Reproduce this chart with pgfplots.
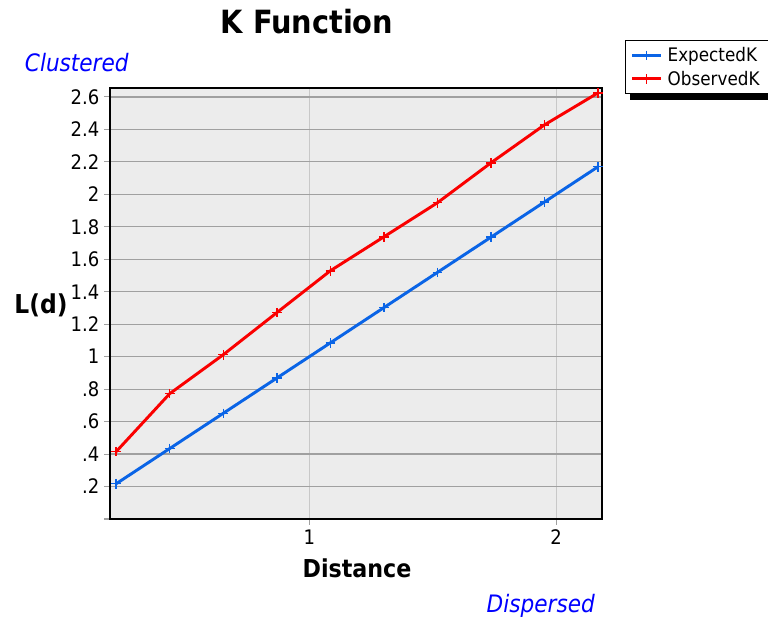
\documentclass[border=0pt]{standalone}
\usepackage{pgfplots}
\pgfplotsset{compat=1.18}
\usepackage{fontspec}
\setmainfont{DejaVu Sans Condensed}
\definecolor{expblue}{RGB}{10,100,230}
\definecolor{obsred}{RGB}{250,0,0}
\definecolor{bggray}{RGB}{236,236,236}
\definecolor{hgrid}{RGB}{160,160,160}
\definecolor{vgrid}{RGB}{200,200,200}
\begin{document}
\begin{tikzpicture}
\useasboundingbox (0,0) rectangle (576pt,465pt);
\begin{axis}[
  at={(82.5pt,75.75pt)}, anchor=south west,
  width=369pt, height=323.25pt, scale only axis,
  xmin=0.192, xmax=2.186, ymin=0, ymax=2.655,
  axis background/.style={fill=bggray},
  axis line style={black, line width=1.2pt},
  xtick={1,2}, ytick={0,0.2,0.4,0.6,0.8,1,1.2,1.4,1.6,1.8,2,2.2,2.4,2.6},
  yticklabels={,.2,.4,.6,.8,1,1.2,1.4,1.6,1.8,2,2.2,2.4,2.6},
  tick align=outside, tick pos=left,
  major tick length=4.5pt,
  tick style={hgrid, line width=0.8pt},
  ymajorgrids, xmajorgrids,
  y grid style={hgrid, line width=0.9pt},
  x grid style={vgrid, line width=0.8pt},
  tick label style={font=\fontsize{15}{17}\selectfont},
  /pgf/number format/assume math mode=true,
  legend style={name=leg, at={(1.047,1.111)}, anchor=north west, draw=black, fill=white, line width=0.8pt,
    font=\fontsize{14}{16}\selectfont, inner xsep=4pt, inner ysep=3pt, row sep=1.5pt,
    nodes={inner xsep=4pt}},
  legend cell align=left,
  legend image code/.code={
    \draw[#1, mark=none] (0cm,0cm) -- (0.75cm,0cm);
    \draw[#1, only marks] plot coordinates {(0.375cm,0cm)};},
]
\addplot[expblue, line width=2.2pt, mark=+, mark size=3.6pt, mark options={line width=1.1pt}] coordinates {
(0.217,0.217)(0.434,0.434)(0.651,0.651)(0.868,0.868)(1.085,1.085)(1.302,1.302)(1.519,1.519)(1.736,1.736)(1.953,1.953)(2.170,2.170)};
\addlegendentry{ExpectedK}
\addplot[obsred, line width=2.2pt, mark=+, mark size=3.6pt, mark options={line width=1.1pt}] coordinates {
(0.217,0.415)(0.434,0.772)(0.651,1.012)(0.868,1.271)(1.085,1.529)(1.302,1.738)(1.519,1.948)(1.736,2.194)(1.953,2.428)(2.170,2.625)};
\addlegendentry{ObservedK}
\end{axis}
\fill[black] ([xshift=4pt]leg.south west) rectangle ([xshift=4pt,yshift=-4.5pt]leg.south east);
\fill[black] ([yshift=-4.5pt]leg.north east) rectangle ([xshift=4pt,yshift=-4.5pt]leg.south east);
\node[font=\fontsize{24}{28}\selectfont\bfseries] at (230.25pt,448.5pt) {K Function};
\node[font=\fontsize{18}{21}\selectfont\itshape, text=blue, anchor=west, inner sep=0pt] at (18.5pt,417.75pt) {Clustered};
\node[font=\fontsize{18}{21}\selectfont\itshape, text=blue, anchor=east, inner sep=0pt] at (446.25pt,10.5pt) {Dispersed};
\node[font=\fontsize{18.5}{21}\selectfont\bfseries] at (267.75pt,39pt) {Distance};
\node[font=\fontsize{19.5}{22}\selectfont\bfseries] at (30.75pt,236.25pt) {L(d)};
\end{tikzpicture}
\end{document}
